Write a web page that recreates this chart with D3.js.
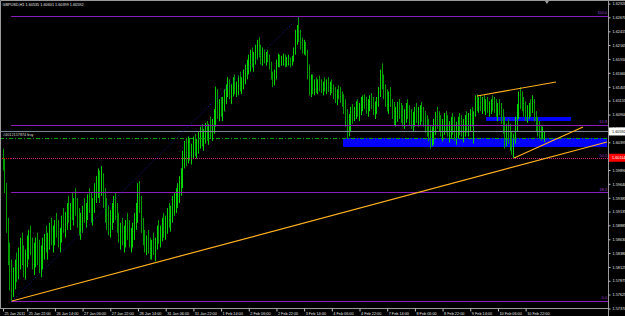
<!DOCTYPE html>
<html>
<head>
<meta charset="utf-8">
<script src="https://cdn.jsdelivr.net/npm/d3@7"></script>
<style>
body { margin: 0; background: #000; }
svg { display: block; }
text { font-family: "Liberation Sans", Arial, sans-serif; }
</style>
</head>
<body>
<svg id="drawing_region"></svg>
<script>
// GBPUSD H1, 25 Jan 2011 08:00 -> 11 Feb 2011 (one entry per hourly bar)
const chartTitle = "GBPUSD,H1  1.60535 1.60601 1.60399 1.60592";

const opens = [
1.6019,1.5996,1.5956,1.5888,1.5826,1.5794,1.5780,1.5785,1.5812,1.5798,
1.5826,1.5839,1.5826,1.5812,1.5830,1.5848,1.5857,1.5844,1.5826,1.5839,
1.5852,1.5834,1.5821,1.5834,1.5848,1.5862,1.5852,1.5866,1.5880,1.5866,
1.5875,1.5888,1.5875,1.5862,1.5880,1.5898,1.5888,1.5906,1.5916,1.5902,
1.5920,1.5911,1.5929,1.5916,1.5898,1.5888,1.5902,1.5916,1.5906,1.5920,
1.5938,1.5929,1.5911,1.5929,1.5952,1.5965,1.5978,1.5947,1.5970,1.5938,
1.5911,1.5898,1.5888,1.5902,1.5911,1.5929,1.5916,1.5893,1.5870,1.5880,
1.5866,1.5875,1.5888,1.5875,1.5862,1.5870,1.5884,1.5898,1.5911,1.5952,
1.5924,1.5888,1.5866,1.5852,1.5862,1.5848,1.5839,1.5857,1.5844,1.5862,
1.5875,1.5866,1.5880,1.5893,1.5884,1.5898,1.5911,1.5902,1.5920,1.5929,
1.5938,1.5947,1.5956,1.5965,1.5978,1.6010,1.6028,1.6014,1.6032,1.6019,
1.6028,1.6037,1.6024,1.6037,1.6046,1.6055,1.6042,1.6050,1.6064,1.6055,
1.6068,1.6060,1.6073,1.6091,1.6132,1.6100,1.6109,1.6096,1.6118,1.6127,
1.6136,1.6145,1.6132,1.6140,1.6150,1.6136,1.6145,1.6154,1.6143,1.6150,
1.6163,1.6172,1.6181,1.6190,1.6199,1.6186,1.6194,1.6208,1.6217,1.6204,
1.6194,1.6199,1.6190,1.6197,1.6190,1.6179,1.6161,1.6150,1.6165,1.6183,
1.6194,1.6186,1.6190,1.6194,1.6186,1.6190,1.6194,1.6183,1.6194,1.6204,
1.6233,1.6244,1.6230,1.6219,1.6212,1.6217,1.6204,1.6168,1.6140,1.6154,
1.6136,1.6145,1.6140,1.6150,1.6143,1.6136,1.6145,1.6140,1.6147,1.6136,
1.6143,1.6132,1.6127,1.6122,1.6129,1.6125,1.6118,1.6111,1.6100,1.6078,
1.6060,1.6073,1.6091,1.6086,1.6096,1.6104,1.6096,1.6100,1.6111,1.6118,
1.6107,1.6100,1.6111,1.6118,1.6107,1.6096,1.6104,1.6118,1.6132,1.6158,
1.6147,1.6129,1.6118,1.6109,1.6122,1.6114,1.6089,1.6082,1.6095,1.6104,
1.6093,1.6086,1.6078,1.6089,1.6096,1.6086,1.6078,1.6071,1.6082,1.6089,
1.6078,1.6086,1.6093,1.6082,1.6075,1.6068,1.6059,1.6050,1.6039,1.6053,
1.6068,1.6082,1.6075,1.6068,1.6060,1.6071,1.6078,1.6068,1.6057,1.6064,
1.6071,1.6060,1.6053,1.6064,1.6075,1.6068,1.6057,1.6068,1.6078,1.6071,
1.6082,1.6089,1.6078,1.6093,1.6118,1.6111,1.6118,1.6107,1.6114,1.6104,
1.6111,1.6100,1.6107,1.6118,1.6111,1.6104,1.6096,1.6107,1.6100,1.6086,
1.6068,1.6046,1.6060,1.6050,1.6035,1.6028,1.6046,1.6073,1.6096,1.6122,
1.6114,1.6104,1.6096,1.6086,1.6096,1.6104,1.6093,1.6111,1.6086,1.6071,
1.6064,1.6057,1.6053,1.60535
];

const highs = [
1.6028,1.6010,1.5965,1.5902,1.5857,1.5826,1.5812,1.5826,1.5839,1.5848,
1.5866,1.5875,1.5852,1.5844,1.5870,1.5880,1.5888,1.5866,1.5857,1.5866,
1.5875,1.5862,1.5852,1.5866,1.5873,1.5888,1.5875,1.5893,1.5902,1.5888,
1.5898,1.5911,1.5898,1.5884,1.5906,1.5920,1.5913,1.5929,1.5942,1.5929,
1.5947,1.5938,1.5956,1.5938,1.5920,1.5911,1.5924,1.5938,1.5929,1.5945,
1.5956,1.5947,1.5938,1.5965,1.5978,1.5992,1.5988,1.5996,1.5983,1.5956,
1.5938,1.5924,1.5916,1.5929,1.5942,1.5947,1.5929,1.5911,1.5893,1.5902,
1.5888,1.5898,1.5911,1.5898,1.5884,1.5893,1.5911,1.5929,1.5965,1.5969,
1.5942,1.5902,1.5880,1.5870,1.5880,1.5866,1.5862,1.5875,1.5866,1.5888,
1.5898,1.5888,1.5902,1.5911,1.5906,1.5920,1.5929,1.5924,1.5942,1.5947,
1.5956,1.5965,1.5978,1.5992,1.6024,1.6042,1.6046,1.6050,1.6046,1.6037,
1.6050,1.6055,1.6046,1.6060,1.6068,1.6073,1.6064,1.6075,1.6078,1.6073,
1.6086,1.6082,1.6100,1.6141,1.6136,1.6118,1.6122,1.6122,1.6136,1.6145,
1.6158,1.6154,1.6145,1.6158,1.6163,1.6150,1.6161,1.6168,1.6158,1.6172,
1.6181,1.6190,1.6199,1.6208,1.6212,1.6204,1.6217,1.6226,1.6231,1.6217,
1.6212,1.6208,1.6204,1.6208,1.6199,1.6186,1.6168,1.6172,1.6190,1.6201,
1.6199,1.6197,1.6201,1.6199,1.6195,1.6199,1.6194,1.6197,1.6212,1.6244,
1.6253,1.6269,1.6244,1.6230,1.6226,1.6222,1.6208,1.6181,1.6163,1.6163,
1.6154,1.6158,1.6154,1.6161,1.6154,1.6150,1.6158,1.6154,1.6158,1.6150,
1.6154,1.6145,1.6140,1.6136,1.6143,1.6140,1.6132,1.6127,1.6118,1.6100,
1.6091,1.6104,1.6109,1.6104,1.6114,1.6118,1.6111,1.6122,1.6125,1.6127,
1.6122,1.6118,1.6125,1.6129,1.6122,1.6114,1.6122,1.6140,1.6172,1.6183,
1.6163,1.6145,1.6136,1.6132,1.6140,1.6118,1.6113,1.6104,1.6113,1.6118,
1.6111,1.6107,1.6100,1.6111,1.6118,1.6107,1.6100,1.6095,1.6104,1.6111,
1.6104,1.6107,1.6113,1.6104,1.6096,1.6089,1.6082,1.6071,1.6068,1.6082,
1.6095,1.6104,1.6096,1.6089,1.6082,1.6093,1.6096,1.6089,1.6078,1.6086,
1.6093,1.6086,1.6077,1.6086,1.6093,1.6089,1.6082,1.6089,1.6096,1.6093,
1.6100,1.6104,1.6096,1.6125,1.6127,1.6122,1.6125,1.6122,1.6125,1.6118,
1.6122,1.6114,1.6118,1.6125,1.6122,1.6118,1.6111,1.6118,1.6111,1.6100,
1.6086,1.6073,1.6082,1.6073,1.6060,1.6055,1.6086,1.6109,1.6132,1.6140,
1.6132,1.6122,1.6114,1.6107,1.6111,1.6118,1.6125,1.6118,1.6096,1.6086,
1.6078,1.6071,1.6068,1.60601
];

const lows = [
1.5988,1.5947,1.5875,1.5816,1.5770,1.5751,1.5758,1.5772,1.5785,1.5790,
1.5808,1.5816,1.5794,1.5790,1.5812,1.5826,1.5834,1.5808,1.5798,1.5812,
1.5816,1.5801,1.5794,1.5808,1.5826,1.5839,1.5826,1.5844,1.5852,1.5839,
1.5852,1.5866,1.5848,1.5839,1.5857,1.5875,1.5866,1.5880,1.5893,1.5880,
1.5898,1.5888,1.5906,1.5884,1.5870,1.5862,1.5875,1.5893,1.5884,1.5898,
1.5911,1.5893,1.5888,1.5911,1.5929,1.5938,1.5929,1.5942,1.5920,1.5893,
1.5880,1.5870,1.5866,1.5880,1.5893,1.5898,1.5875,1.5857,1.5844,1.5852,
1.5839,1.5848,1.5862,1.5848,1.5839,1.5848,1.5862,1.5880,1.5893,1.5911,
1.5875,1.5852,1.5839,1.5834,1.5837,1.5826,1.5826,1.5834,1.5823,1.5844,
1.5855,1.5848,1.5859,1.5866,1.5862,1.5873,1.5884,1.5877,1.5893,1.5906,
1.5911,1.5920,1.5929,1.5942,1.5956,1.5992,1.5996,1.6001,1.6006,1.5999,
1.6010,1.6014,1.6010,1.6019,1.6028,1.6032,1.6024,1.6037,1.6042,1.6035,
1.6046,1.6042,1.6055,1.6068,1.6082,1.6078,1.6086,1.6078,1.6096,1.6109,
1.6122,1.6118,1.6109,1.6123,1.6127,1.6122,1.6125,1.6132,1.6127,1.6136,
1.6145,1.6154,1.6163,1.6168,1.6176,1.6168,1.6181,1.6190,1.6194,1.6181,
1.6179,1.6183,1.6179,1.6185,1.6172,1.6154,1.6140,1.6143,1.6154,1.6176,
1.6176,1.6179,1.6179,1.6176,1.6177,1.6179,1.6176,1.6179,1.6186,1.6199,
1.6217,1.6222,1.6208,1.6201,1.6199,1.6197,1.6154,1.6125,1.6122,1.6127,
1.6125,1.6129,1.6127,1.6132,1.6129,1.6125,1.6132,1.6127,1.6131,1.6125,
1.6129,1.6118,1.6111,1.6107,1.6118,1.6111,1.6104,1.6091,1.6068,1.6046,
1.6050,1.6060,1.6073,1.6078,1.6082,1.6086,1.6078,1.6089,1.6096,1.6100,
1.6091,1.6086,1.6096,1.6100,1.6089,1.6082,1.6091,1.6104,1.6122,1.6136,
1.6118,1.6104,1.6096,1.6091,1.6104,1.6082,1.6071,1.6068,1.6077,1.6082,
1.6075,1.6068,1.6064,1.6075,1.6082,1.6071,1.6064,1.6059,1.6068,1.6075,
1.6068,1.6071,1.6077,1.6068,1.6057,1.6050,1.6041,1.6028,1.6032,1.6035,
1.6053,1.6064,1.6059,1.6050,1.6041,1.6053,1.6057,1.6050,1.6039,1.6046,
1.6053,1.6042,1.6035,1.6046,1.6053,1.6050,1.6039,1.6050,1.6057,1.6050,
1.6060,1.6068,1.6037,1.6086,1.6096,1.6093,1.6096,1.6091,1.6096,1.6089,
1.6093,1.6086,1.6091,1.6096,1.6093,1.6086,1.6078,1.6089,1.6073,1.6055,
1.6028,1.6032,1.6037,1.6024,1.6017,1.6011,1.6037,1.6060,1.6082,1.6100,
1.6096,1.6086,1.6078,1.6075,1.6082,1.6086,1.6093,1.6078,1.6060,1.6050,
1.6046,1.6042,1.6046,1.60399
];

const closes = [
1.5996,1.5956,1.5888,1.5826,1.5794,1.5780,1.5785,1.5812,1.5798,1.5826,
1.5839,1.5826,1.5812,1.5830,1.5848,1.5857,1.5844,1.5826,1.5839,1.5852,
1.5834,1.5821,1.5834,1.5848,1.5862,1.5852,1.5866,1.5880,1.5866,1.5875,
1.5888,1.5875,1.5862,1.5880,1.5898,1.5888,1.5906,1.5916,1.5902,1.5920,
1.5911,1.5929,1.5916,1.5898,1.5888,1.5902,1.5916,1.5906,1.5920,1.5938,
1.5929,1.5911,1.5929,1.5952,1.5965,1.5978,1.5947,1.5970,1.5938,1.5911,
1.5898,1.5888,1.5902,1.5911,1.5929,1.5916,1.5893,1.5870,1.5880,1.5866,
1.5875,1.5888,1.5875,1.5862,1.5870,1.5884,1.5898,1.5911,1.5952,1.5924,
1.5888,1.5866,1.5852,1.5862,1.5848,1.5839,1.5857,1.5844,1.5862,1.5875,
1.5866,1.5880,1.5893,1.5884,1.5898,1.5911,1.5902,1.5920,1.5929,1.5938,
1.5947,1.5956,1.5965,1.5978,1.6010,1.6028,1.6014,1.6032,1.6019,1.6028,
1.6037,1.6024,1.6037,1.6046,1.6055,1.6042,1.6050,1.6064,1.6055,1.6068,
1.6060,1.6073,1.6091,1.6132,1.6100,1.6109,1.6096,1.6118,1.6127,1.6136,
1.6145,1.6132,1.6140,1.6150,1.6136,1.6145,1.6154,1.6143,1.6150,1.6163,
1.6172,1.6181,1.6190,1.6199,1.6186,1.6194,1.6208,1.6217,1.6204,1.6194,
1.6199,1.6190,1.6197,1.6190,1.6179,1.6161,1.6150,1.6165,1.6183,1.6194,
1.6186,1.6190,1.6194,1.6186,1.6190,1.6194,1.6183,1.6194,1.6204,1.6233,
1.6244,1.6230,1.6219,1.6212,1.6217,1.6204,1.6168,1.6140,1.6154,1.6136,
1.6145,1.6140,1.6150,1.6143,1.6136,1.6145,1.6140,1.6147,1.6136,1.6143,
1.6132,1.6127,1.6122,1.6129,1.6125,1.6118,1.6111,1.6100,1.6078,1.6060,
1.6073,1.6091,1.6086,1.6096,1.6104,1.6096,1.6100,1.6111,1.6118,1.6107,
1.6100,1.6111,1.6118,1.6107,1.6096,1.6104,1.6118,1.6132,1.6158,1.6147,
1.6129,1.6118,1.6109,1.6122,1.6114,1.6089,1.6082,1.6095,1.6104,1.6093,
1.6086,1.6078,1.6089,1.6096,1.6086,1.6078,1.6071,1.6082,1.6089,1.6078,
1.6086,1.6093,1.6082,1.6075,1.6068,1.6059,1.6050,1.6039,1.6053,1.6068,
1.6082,1.6075,1.6068,1.6060,1.6071,1.6078,1.6068,1.6057,1.6064,1.6071,
1.6060,1.6053,1.6064,1.6075,1.6068,1.6057,1.6068,1.6078,1.6071,1.6082,
1.6089,1.6078,1.6093,1.6118,1.6111,1.6118,1.6107,1.6114,1.6104,1.6111,
1.6100,1.6107,1.6118,1.6111,1.6104,1.6096,1.6107,1.6100,1.6086,1.6068,
1.6046,1.6060,1.6050,1.6035,1.6028,1.6046,1.6073,1.6096,1.6122,1.6114,
1.6104,1.6096,1.6086,1.6096,1.6104,1.6093,1.6111,1.6086,1.6071,1.6064,
1.6057,1.6053,1.6054,1.60592
];

// time scale labels (bar index, text)
const timeTickIdx = [0,14,30,46,62,78,94,110,126,142,158,174,190,206,222,238,254,270,286,302];
const timeLabels = ["25 Jan 2011","25 Jan 22:00","26 Jan 14:00","27 Jan 06:00","27 Jan 22:00",
    "28 Jan 14:00","31 Jan 06:00","31 Jan 22:00","1 Feb 14:00","2 Feb 06:00","2 Feb 22:00",
    "3 Feb 14:00","4 Feb 06:00","4 Feb 22:00","7 Feb 14:00","8 Feb 06:00","8 Feb 22:00",
    "9 Feb 14:00","10 Feb 06:00","10 Feb 22:00"];

// price scale labels
const priceTicks = [1.57370,1.57625,1.57875,1.58125,1.58380,1.58630,1.58885,1.59135,1.59385,
    1.59640,1.59890,1.60145,1.60395,1.60650,1.60900,1.61155,1.61405,1.61660,1.61910,
    1.62165,1.62415,1.62670,1.62920];

// fibonacci retracement
const fibLevels = [0, 38.2, 50, 61.8, 100];
const fibLow = 1.57507;
const fibHigh = 1.62694;

const bidPrice = 1.60592;
const alertPrice = 1.60114;
const orderPrice = 1.60473;
const orderLabel = "#4012157874 buy";

// trend lines: [bar index 1, price 1, bar index 2, price 2]
const trendLines = [
    [5.2, 1.57507, 349, 1.60401],
    [295.3, 1.60109, 335.1, 1.60674],
    [273.9, 1.61238, 319.5, 1.61493]
];
const fibTrend = [5.2, 1.57507, 171.6, 1.62694];

// rectangles: [bar index 1, bar index 2, price top, price bottom]
const zones = [
    [196.5, 349, 1.60473, 1.60310],
    [279.1, 328.2, 1.60856, 1.60783]
];


class MT4Chart {

    constructor( config ) {
        this.config = {
            parent: config.parent,
            width: config.width || 625,
            height: config.height || 316,
            plot_right: config.plot_right || 608,
            plot_bottom: config.plot_bottom || 308
        }
        this.init();
    }

    init() {
        let self = this;

        self.svg = d3.select( self.config.parent )
            .attr('width', self.config.width)
            .attr('height', self.config.height);

        self.svg.append('rect')
            .attr('width', self.config.width)
            .attr('height', self.config.height)
            .attr('fill', '#000');

        self.svg.append('clipPath')
            .attr('id', 'plot_clip')
            .append('rect')
            .attr('x', 1).attr('y', 1)
            .attr('width', self.config.plot_right - 1)
            .attr('height', self.config.plot_bottom - 1);

        // bar index -> x, price -> y
        self.xscale = d3.scaleLinear()
            .domain([0, 349])
            .range([3, 607]);

        self.yscale = d3.scaleLinear()
            .domain([1.57434, 1.62985])
            .range([305, 0]);

        self.plot = self.svg.append('g')
            .attr('clip-path', 'url(#plot_clip)');
    }

    render() {
        let self = this;
        const x = self.xscale, y = self.yscale;
        const R = self.config.plot_right, B = self.config.plot_bottom;
        const px = i => Math.floor(x(i)) + 0.5;

        // rectangles (background objects)
        self.plot.selectAll('.zone').data(zones)
            .join('rect')
            .attr('class', 'zone')
            .attr('x', d => x(d[0]))
            .attr('y', d => y(d[2]))
            .attr('width', d => x(d[1]) - x(d[0]))
            .attr('height', d => y(d[3]) - y(d[2]))
            .attr('fill', '#0000ff');

        // price bars (high-low lines, pixel aligned)
        const bars = d3.range(highs.length);
        self.plot.append('g')
            .attr('stroke-width', 1)
            .selectAll('line').data(bars)
            .join('line')
            .attr('x1', px).attr('x2', px)
            .attr('y1', i => y(highs[i])).attr('y2', i => y(lows[i]))
            .attr('stroke', i => closes[i] >= opens[i] ? '#00d200' : '#009c00');

        // fibonacci levels
        const fibPrice = lv => fibLow + (fibHigh - fibLow) * lv / 100;
        self.plot.selectAll('.fib').data(fibLevels)
            .join('line')
            .attr('class', 'fib')
            .attr('x1', x(4.6)).attr('x2', R)
            .attr('y1', d => Math.round(y(fibPrice(d))) + 0.5)
            .attr('y2', d => Math.round(y(fibPrice(d))) + 0.5)
            .attr('stroke', d => d == 50 ? '#d0207a' : '#8a1fb8')
            .attr('stroke-width', 1)
            .attr('stroke-dasharray', d => d == 50 ? '1,1' : null);

        self.plot.selectAll('.fibtext').data(fibLevels)
            .join('text')
            .attr('x', R - 1)
            .attr('y', d => y(fibPrice(d)) - 1.5)
            .attr('text-anchor', 'end')
            .attr('font-size', '3.8px')
            .attr('fill', '#9a3ad0')
            .text(d => d3.format('.1f')(d));

        // alert line
        self.plot.append('line')
            .attr('x1', 0).attr('x2', x(4.6))
            .attr('y1', Math.round(y(alertPrice)) + 0.5).attr('y2', Math.round(y(alertPrice)) + 0.5)
            .attr('stroke', '#e00000')
            .attr('stroke-dasharray', '1,1');

        // bid line
        self.plot.append('line')
            .attr('x1', 0).attr('x2', R)
            .attr('y1', Math.round(y(bidPrice)) + 0.5).attr('y2', Math.round(y(bidPrice)) + 0.5)
            .attr('stroke', '#778899');

        // order line
        self.plot.append('line')
            .attr('x1', 0).attr('x2', R)
            .attr('y1', Math.round(y(orderPrice)) + 0.5).attr('y2', Math.round(y(orderPrice)) + 0.5)
            .attr('stroke', '#00a000')
            .attr('stroke-dasharray', '4,2,1,2');

        self.plot.append('text')
            .attr('x', 3)
            .attr('y', y(orderPrice) - 1.6)
            .attr('font-size', '3.8px')
            .attr('fill', '#d8d8d8')
            .text(orderLabel);

        // fibo trend (dotted)
        self.plot.append('line')
            .attr('x1', x(fibTrend[0])).attr('y1', y(fibTrend[1]))
            .attr('x2', x(fibTrend[2])).attr('y2', y(fibTrend[3]))
            .attr('stroke', '#1a1a9a')
            .attr('stroke-dasharray', '1,2');

        // trend lines
        self.plot.selectAll('.trend').data(trendLines)
            .join('line')
            .attr('class', 'trend')
            .attr('x1', d => x(d[0])).attr('y1', d => y(d[1]))
            .attr('x2', d => x(d[2])).attr('y2', d => y(d[3]))
            .attr('stroke', '#ffb020')
            .attr('stroke-width', 1.2);

        // frame
        self.svg.append('path')
            .attr('d', `M0.5,${B} V0.5 H${self.config.width}`)
            .attr('fill', 'none')
            .attr('stroke', '#9a9a9a');
        self.svg.append('line')
            .attr('x1', 0).attr('x2', R)
            .attr('y1', B + 0.5).attr('y2', B + 0.5)
            .attr('stroke', '#9a9a9a');
        self.svg.append('line')
            .attr('x1', R + 0.5).attr('x2', R + 0.5)
            .attr('y1', 0).attr('y2', self.config.height)
            .attr('stroke', '#9a9a9a');

        // chart shift marker
        self.svg.append('path')
            .attr('d', `M${x(314.3) - 2},1 h4 l-2,3 z`)
            .attr('fill', '#9a9a9a');

        // price axis
        self.yaxis = d3.axisRight( y )
            .tickValues(priceTicks)
            .tickFormat(d3.format('.5f'))
            .tickSize(2)
            .tickPadding(2);
        self.yaxis_group = self.svg.append('g')
            .attr('transform', `translate(${R + 0.5}, 0)`)
            .call( self.yaxis );
        self.yaxis_group.select('.domain').remove();
        self.yaxis_group.selectAll('line').attr('stroke', '#bbb');
        self.yaxis_group.selectAll('text')
            .attr('fill', '#e0e0e0')
            .attr('font-size', '3.8px')
            .attr('font-family', '"Liberation Sans", Arial, sans-serif');

        // time axis
        self.xaxis = d3.axisBottom( x )
            .tickValues(timeTickIdx)
            .tickFormat((d, i) => timeLabels[i])
            .tickSize(3)
            .tickPadding(1);
        self.xaxis_group = self.svg.append('g')
            .attr('transform', `translate(0, ${B + 0.5})`)
            .call( self.xaxis );
        self.xaxis_group.select('.domain').remove();
        self.xaxis_group.selectAll('line').attr('stroke', '#bbb');
        self.xaxis_group.selectAll('text')
            .attr('text-anchor', 'start')
            .attr('x', 1)
            .attr('fill', '#e0e0e0')
            .attr('font-size', '3.8px')
            .attr('font-family', '"Liberation Sans", Arial, sans-serif');

        // current price and alert labels on the price scale
        const boxes = [
            {price: bidPrice, bg: '#ffffff', fg: '#000000'},
            {price: alertPrice, bg: '#ff0000', fg: '#ffffff'}
        ];
        const bx = self.svg.selectAll('.pbox').data(boxes).join('g')
            .attr('transform', d => `translate(${R + 1}, ${y(d.price)})`);
        bx.append('rect')
            .attr('x', 0).attr('y', -4)
            .attr('width', self.config.width - R - 1).attr('height', 8)
            .attr('fill', d => d.bg);
        bx.append('text')
            .attr('x', 3).attr('y', 1.4)
            .attr('font-size', '3.8px')
            .attr('fill', d => d.fg)
            .text(d => d3.format('.5f')(d.price));

        // symbol header
        self.svg.append('text')
            .attr('x', 2.5)
            .attr('y', 6)
            .attr('font-size', '3.8px')
            .attr('fill', '#e0e0e0')
            .text(chartTitle);
    }
}

const chart = new MT4Chart({ parent: '#drawing_region', width: 625, height: 316 });
chart.render();
</script>
</body>
</html>
